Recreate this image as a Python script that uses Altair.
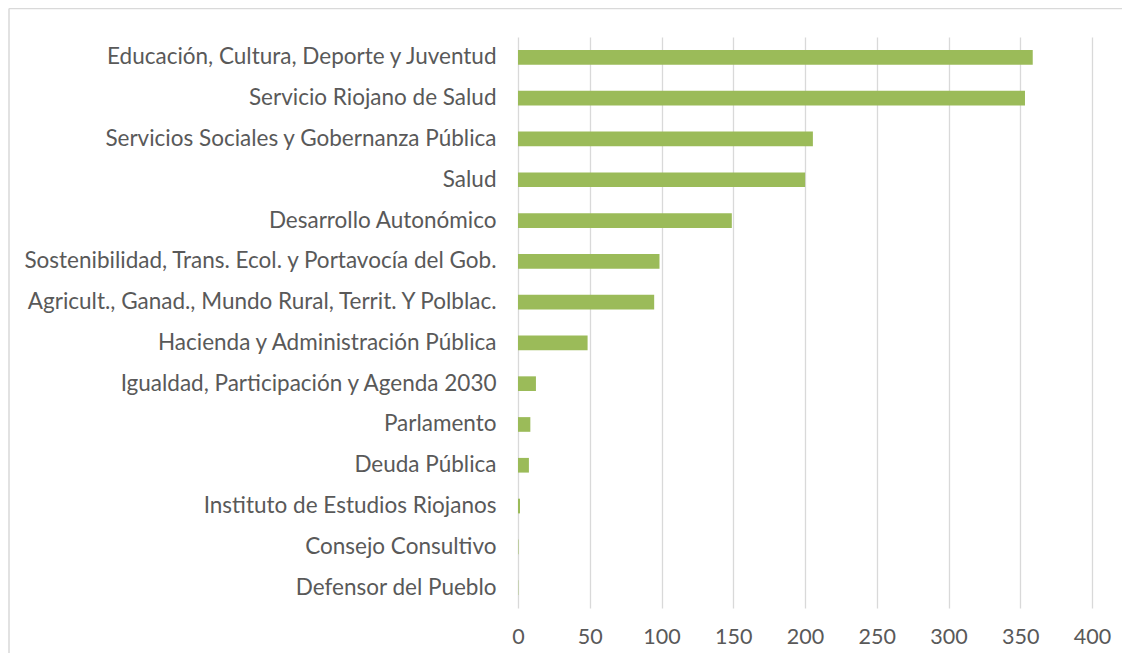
import altair as alt
import pandas as pd

categorias = [
    "Educación, Cultura, Deporte y Juventud",
    "Servicio Riojano de Salud",
    "Servicios Sociales y Gobernanza Pública",
    "Salud",
    "Desarrollo Autonómico",
    "Sostenibilidad, Trans. Ecol. y Portavocía del Gob.",
    "Agricult., Ganad., Mundo Rural, Territ. Y Polblac.",
    "Hacienda y Administración Pública",
    "Igualdad, Participación y Agenda 2030",
    "Parlamento",
    "Deuda Pública",
    "Instituto de Estudios Riojanos",
    "Consejo Consultivo",
    "Defensor del Pueblo",
]
valores = [358.7, 353.3, 205.5, 200.1, 149.0, 98.6, 94.9, 48.5, 12.5, 8.6, 7.6, 1.4, 0.3, 0.2]
ticks = [0, 50, 100, 150, 200, 250, 300, 350, 400]

df = pd.DataFrame({"categoria": categorias, "valor": valores})

FONT = "Lato"

bars = alt.Chart(df).mark_bar(color="#9BBB59").encode(
    x=alt.X("valor:Q", scale=alt.Scale(domain=[0, 400], nice=False),
            axis=alt.Axis(values=ticks, title=None, grid=True, gridColor="#D9D9D9",
                          gridWidth=1.3, domain=False, ticks=False, labelPadding=18,
                          labelFlush=False,
                          labelFontSize=21.5, labelColor="#595959", labelFont=FONT)),
    y=alt.Y("categoria:N", sort=categorias,
            scale=alt.Scale(paddingInner=0.64, paddingOuter=0.32),
            axis=alt.Axis(title=None, domain=False, ticks=False, labelPadding=22,
                          labelFontSize=22.5, labelColor="#595959", labelFont=FONT,
                          labelLimit=700)),
)

one = alt.Data(values=[{"k": 1}])
# chart-area frame: left and top edges (right/bottom lie outside the picture)
frame_left = alt.Chart(one).mark_rule(stroke="#D9D9D9", strokeWidth=1.5).encode(
    x=alt.value(-509), y=alt.value(-28.5), y2=alt.value(616),
)
frame_top = alt.Chart(one).mark_rule(stroke="#D9D9D9", strokeWidth=1.5).encode(
    x=alt.value(-509), x2=alt.value(604), y=alt.value(-28.5),
)

chart = alt.layer(bars, frame_left, frame_top).properties(
    width=574, height=571,
    autosize=alt.AutoSizeParams(type="none"),
    padding={"left": 510, "top": 29, "right": 30, "bottom": 45},
).configure(background="white").configure_view(stroke=None)

chart.save("out.html", embed_options={"renderer": "svg", "actions": False})
